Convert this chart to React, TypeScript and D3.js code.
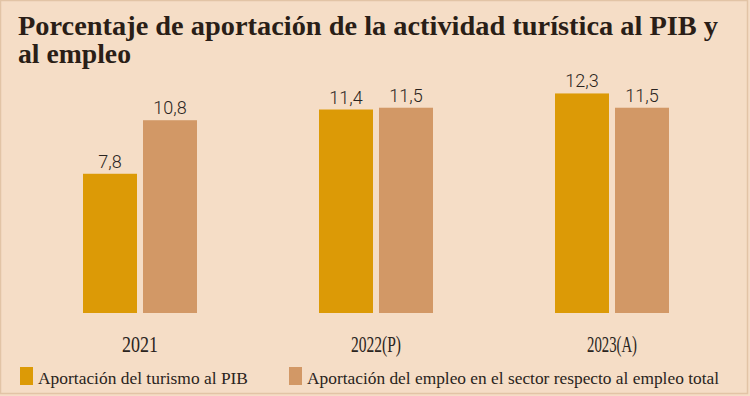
import React, { useRef, useEffect } from "react";
import * as d3 from "d3";

// Datos
const years = ["2021", "2022(P)", "2023(A)"];
const series = ["pib", "empleo"];
const seriesNames = [
  "Aportación del turismo al PIB",
  "Aportación del empleo en el sector respecto al empleo total",
];
const pibValues = [7.8, 11.4, 12.3];
const empleoValues = [10.8, 11.5, 11.5];
const colors = ["#dc9a06", "#d29866"];

const fmt = (v: number) => v.toFixed(1).replace(".", ",");

const App = () => {
  const ref = useRef<SVGSVGElement>(null);
  const width = 750;
  const height = 396;

  useEffect(() => {
    const container = ref.current;
    if (!container) return;
    d3.select(container).selectChildren().remove();

    const svg = d3.select(container);

    // Fondo
    svg
      .append("rect")
      .attr("width", width)
      .attr("height", height)
      .attr("fill", "#f5ddc6");
    svg
      .append("rect")
      .attr("x", 0.5)
      .attr("y", 0.5)
      .attr("width", width - 3)
      .attr("height", height - 3)
      .attr("fill", "none")
      .attr("stroke", "#e2c4a6")
      .attr("stroke-width", 1.5);

    // Título
    const title = svg
      .append("text")
      .attr("fill", "#2a1e17")
      .style("font-family", "'Liberation Serif', serif")
      .style("font-weight", "bold")
      .style("font-size", "27px");
    title
      .append("tspan")
      .attr("x", 18)
      .attr("y", 35)
      .attr("textLength", 700)
      .attr("lengthAdjust", "spacingAndGlyphs")
      .text("Porcentaje de aportación de la actividad turística al PIB y");
    title
      .append("tspan")
      .attr("x", 18)
      .attr("y", 63)
      .attr("textLength", 113)
      .attr("lengthAdjust", "spacingAndGlyphs")
      .text("al empleo");

    // Escalas
    const x = d3
      .scaleBand()
      .domain(years)
      .range([22, 730])
      .paddingInner(0.517)
      .paddingOuter(0.2585);
    const xs = d3
      .scaleBand()
      .domain(series)
      .range([0, x.bandwidth()])
      .paddingInner(0.1);
    const y = d3.scaleLinear().domain([0, 14]).range([313, 313 - 14 * 17.85]);

    const data = years.map((yr, i) => ({
      year: yr,
      values: [pibValues[i], empleoValues[i]],
    }));

    const group = svg
      .selectAll("g.grp")
      .data(data)
      .enter()
      .append("g")
      .attr("class", "grp")
      .attr("transform", (d) => `translate(${x(d.year)}, 0)`);

    const bar = group
      .selectAll("g.bar")
      .data((d) => d.values.map((v, j) => ({ key: series[j], v, j })))
      .enter()
      .append("g");

    bar
      .append("rect")
      .attr("x", (d) => xs(d.key)!)
      .attr("y", (d) => y(d.v))
      .attr("width", xs.bandwidth())
      .attr("height", (d) => y(0) - y(d.v))
      .attr("fill", (d) => colors[d.j]);

    bar
      .append("text")
      .attr("x", (d) => xs(d.key)! + xs.bandwidth() / 2)
      .attr("y", (d) => y(d.v) - 6)
      .attr("text-anchor", "middle")
      .attr("fill", "#2a2420")
      .style("font-family", "Roboto, sans-serif")
      .style("font-weight", 300)
      .style("font-size", "18px")
      .text((d) => fmt(d.v));

    // Etiquetas de categoría
    svg
      .selectAll("text.cat")
      .data(years)
      .enter()
      .append("text")
      .attr("class", "cat")
      .attr("x", (d) => x(d)! + x.bandwidth() / 2)
      .attr("y", 352)
      .attr("text-anchor", "middle")
      .attr("fill", "#2a2420")
      .attr("textLength", (d) => (d.length > 4 ? 50 : 36))
      .attr("lengthAdjust", "spacingAndGlyphs")
      .style("font-family", "'Liberation Serif', serif")
      .style("font-size", "24px")
      .text((d) => d);

    // Leyenda
    const legendX = [20, 289];
    const legendW = [210, 412];
    const legend = svg
      .selectAll("g.leg")
      .data(seriesNames)
      .enter()
      .append("g")
      .attr("transform", (_, i) => `translate(${legendX[i]}, 0)`);
    legend
      .append("rect")
      .attr("x", 0)
      .attr("y", 367)
      .attr("width", 13)
      .attr("height", 18)
      .attr("fill", (_, i) => colors[i]);
    legend
      .append("text")
      .attr("x", 18)
      .attr("y", 384)
      .attr("fill", "#2a2420")
      .attr("textLength", (_, i) => legendW[i])
      .attr("lengthAdjust", "spacingAndGlyphs")
      .style("font-family", "'Liberation Serif', serif")
      .style("font-size", "17px")
      .text((d) => d);
  }, []);

  return (
    <div style={{ position: "absolute", left: 0, top: 0 }}>
      <svg width={width} height={height} ref={ref} style={{ display: "block" }} />
    </div>
  );
};

export default App;
